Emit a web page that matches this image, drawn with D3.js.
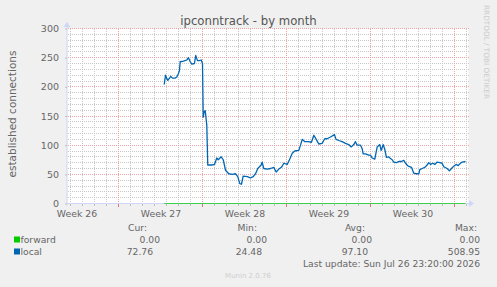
<!DOCTYPE html>
<html>
<head>
<meta charset="utf-8">
<script src="https://cdn.jsdelivr.net/npm/d3@7"></script>
<style>
html,body{margin:0;padding:0;background:#F0F0F0;}
svg{display:block;font-family:"DejaVu Sans",sans-serif;}
</style>
</head>
<body>
<svg id="chart" width="497" height="287"></svg>
<script>
// ---- data ----
const title = "ipconntrack - by month";
const yLabel = "established connections";
const yTicks = [0, 50, 100, 150, 200, 250, 300];
const weekLabels = ["Week 26", "Week 27", "Week 28", "Week 29", "Week 30"];
const weekStarts = [-2.75, 4.25, 11.25, 18.25, 25.25, 32.25]; // day offsets of week boundaries
const seriesNames = ["forward", "local"];
const seriesColors = ["#00CC00", "#0066B3"];
const curValues = ["0.00", "72.76"];
const minValues = ["0.00", "24.48"];
const avgValues = ["0.00", "97.10"];
const maxValues = ["0.00", "508.95"];
const lastUpdate = "Last update: Sun Jul 26 23:20:00 2026";

const forwardDays = [8.06, 12, 16, 20, 24, 28, 33.17];
const forwardValues = [0, 0, 0, 0, 0, 0, 0];

const localDays = [8.06, 8.17, 8.28, 8.36, 8.61, 8.75, 8.98, 9.11, 9.25, 9.33, 9.39, 9.67, 9.94, 10.08, 10.23, 10.36, 10.58, 10.69, 10.83, 10.98, 11.14, 11.25, 11.31, 11.39, 11.48, 11.61, 11.69, 12.03, 12.25, 12.44, 12.56, 12.81, 12.98, 13.17, 13.44, 13.73, 14.00, 14.19, 14.36, 14.50, 14.64, 14.98, 15.25, 15.48, 15.67, 15.86, 16.14, 16.22, 16.36, 16.64, 16.92, 17.19, 17.39, 17.61, 17.83, 18.03, 18.31, 18.50, 18.73, 18.94, 19.28, 19.42, 19.56, 19.78, 20.06, 20.33, 20.53, 20.73, 20.94, 21.22, 21.44, 21.64, 21.92, 22.25, 22.38, 22.61, 22.89, 23.17, 23.44, 23.64, 23.86, 24.00, 24.14, 24.42, 24.56, 24.64, 24.83, 25.11, 25.25, 25.39, 25.61, 25.81, 26.03, 26.14, 26.31, 26.44, 26.58, 26.78, 26.92, 27.06, 27.19, 27.42, 27.61, 27.83, 28.03, 28.17, 28.39, 28.67, 28.86, 29.06, 29.28, 29.36, 29.56, 29.78, 29.97, 30.11, 30.25, 30.44, 30.61, 30.81, 31.03, 31.22, 31.36, 31.64, 31.83, 32.00, 32.19, 32.39, 32.56, 32.75, 32.89, 33.17];
const localValues = [204, 220, 214, 211, 218, 215, 215, 217, 223, 228, 243, 244, 246, 250, 243, 239, 240, 254, 245, 245, 246, 240, 148, 157, 159, 134, 66, 66, 67, 78, 75, 80, 75, 57, 51, 50, 51, 46, 34, 33, 47, 46, 44, 46, 51, 60, 66, 71, 60, 59, 60, 62, 54, 59, 62, 69, 67, 75, 86, 90, 91, 100, 110, 106, 106, 105, 117, 110, 102, 103, 111, 111, 114, 118, 110, 108, 106, 103, 101, 97, 101, 106, 100, 100, 94, 85, 85, 83, 83, 78, 76, 97, 101, 91, 101, 93, 79, 80, 77, 75, 71, 70, 72, 72, 74, 69, 64, 62, 52, 51, 51, 58, 60, 62, 66, 70, 67, 69, 67, 71, 70, 69, 63, 60, 56, 60, 64, 67, 65, 69, 71, 72];

// ---- layout ----
const svg = d3.select("#chart");
const L = 67.5, R = 468.5, T = 28.5, B = 203.5;
const x = d3.scaleLinear().domain([0, 33.42]).range([L, R]);
const y = d3.scaleLinear().domain([0, 300]).range([B, T]);
const textCol = "#666666";
const axisCol = "#CFD6F8";
const minorCol = "#c8c8c8";
const majorCol = "#eda4a4";
const px = v => Math.round(v - 0.5) + 0.5;

// canvas
svg.append("rect").attr("x", L).attr("y", T).attr("width", R - L).attr("height", B - T).attr("fill", "#FFFFFF");

// grid
const g = svg.append("g").attr("shape-rendering", "crispEdges");
const minorY = d3.range(10, 300, 10).filter(v => v % 50 !== 0);
g.selectAll(".hmin").data(minorY).join("line")
  .attr("x1", L).attr("x2", R).attr("y1", d => px(y(d))).attr("y2", d => px(y(d)))
  .attr("stroke", minorCol).attr("stroke-dasharray", "1,1");
const dayLines = d3.range(0.25, 33.42, 1).filter(d => !weekStarts.some(w => Math.abs(w - d) < 1e-6));
g.selectAll(".vmin").data(dayLines).join("line")
  .attr("x1", d => px(x(d))).attr("x2", d => px(x(d))).attr("y1", T).attr("y2", B)
  .attr("stroke", minorCol).attr("stroke-dasharray", "1,1");
g.selectAll(".hmaj").data(yTicks.filter(v => v > 0)).join("line")
  .attr("x1", L).attr("x2", R).attr("y1", d => px(y(d))).attr("y2", d => px(y(d)))
  .attr("stroke", majorCol).attr("stroke-dasharray", "1,1");
const weekLines = weekStarts.filter(d => x(d) > L && x(d) < R);
g.selectAll(".vmaj").data(weekLines).join("line")
  .attr("x1", d => px(x(d))).attr("x2", d => px(x(d))).attr("y1", T).attr("y2", B)
  .attr("stroke", majorCol).attr("stroke-dasharray", "1,1");

// tick marks below x axis
g.selectAll(".tmin").data(dayLines).join("line")
  .attr("x1", d => px(x(d))).attr("x2", d => px(x(d))).attr("y1", B).attr("y2", B + 2)
  .attr("stroke", "#c0c0c0");
g.selectAll(".tmaj").data(weekLines).join("line")
  .attr("x1", d => px(x(d))).attr("x2", d => px(x(d))).attr("y1", B).attr("y2", B + 3)
  .attr("stroke", "#e07070");

// axes lines + arrows
svg.append("line").attr("x1", L - 0.5).attr("x2", R + 1).attr("y1", B).attr("y2", B).attr("stroke", axisCol);
svg.append("line").attr("x1", L - 0.5).attr("x2", L - 0.5).attr("y1", B + 2).attr("y2", T - 2).attr("stroke", axisCol);
svg.append("path").attr("d", `M${R + 0.5},${B - 3.5} L${R + 5.5},${B} L${R + 0.5},${B + 3.5} Z`).attr("fill", axisCol);
svg.append("path").attr("d", `M${L - 4},${T - 1.5} L${L - 0.5},${T - 6.5} L${L + 3},${T - 1.5} Z`).attr("fill", axisCol);

// y axis
const yAxis = svg.append("g").attr("transform", `translate(${L - 0.5},0)`)
  .call(d3.axisLeft(y).tickValues(yTicks).tickSize(2).tickPadding(6).tickFormat(d3.format("d")));
yAxis.select(".domain").remove();
yAxis.selectAll("line").attr("stroke", "#c0c0c0");
yAxis.selectAll("text").attr("fill", textCol).style("font-size", "9.5px").style("font-family", "DejaVu Sans");

// x axis labels
const weekMid = weekStarts.slice(0, weekLabels.length).map(w => w + 3.5);
const xAxis = svg.append("g").attr("transform", `translate(0,${B})`)
  .call(d3.axisBottom(x).tickValues(weekMid).tickSize(0).tickPadding(7).tickFormat((d, i) => weekLabels[i]));
xAxis.select(".domain").remove();
xAxis.selectAll("text").attr("fill", textCol).style("font-size", "9.3px").style("font-family", "DejaVu Sans");

// series lines
const line = d3.line().x(d => x(d[0])).y(d => y(d[1]));
svg.append("path").datum(forwardDays.map((d, i) => [d, forwardValues[i]]))
  .attr("d", line).attr("fill", "none").attr("stroke", seriesColors[0]).attr("stroke-width", 1.2).attr("stroke-opacity", 0.7);
svg.append("path").datum(localDays.map((d, i) => [d, localValues[i]]))
  .attr("d", line).attr("fill", "none").attr("stroke", seriesColors[1]).attr("stroke-width", 1.3)
  .attr("stroke-linejoin", "round");

// title
svg.append("text").attr("x", 248.5).attr("y", 25).attr("text-anchor", "middle")
  .attr("fill", "#555").style("font-size", "11.7px").text(title);

// y label
svg.append("text").attr("transform", "translate(15.5,114) rotate(-90)").attr("text-anchor", "middle")
  .attr("fill", textCol).style("font-size", "10.5px").text(yLabel);

// watermark
svg.append("text").attr("transform", "translate(484,5) rotate(90)").attr("text-anchor", "start")
  .attr("fill", "#cccccc").style("font-size", "7.3px").text("RRDTOOL / TOBI OETIKER");
svg.append("text").attr("x", 248).attr("y", 278).attr("text-anchor", "middle")
  .attr("fill", "#cfcfcf").style("font-size", "7px").text("Munin 2.0.76");

// legend
const lf = "9.2px";
const heads = ["Cur:", "Min:", "Avg:", "Max:"];
const headEnd = [147, 257, 365, 477];
heads.forEach((h, i) => {
  svg.append("text").attr("x", headEnd[i]).attr("y", 231).attr("text-anchor", "end")
    .attr("fill", textCol).style("font-size", lf).text(h);
});
const cols = [curValues, minValues, avgValues, maxValues];
const rowEnds = [[160, 267, 372, 480], [153, 262, 368, 480]];
const rowY = [243, 255];
seriesNames.forEach((n, r) => {
  svg.append("rect").attr("x", 14).attr("y", rowY[r] - 6.5).attr("width", 6).attr("height", 6).attr("fill", seriesColors[r]);
  svg.append("text").attr("x", 20.5).attr("y", rowY[r]).attr("fill", textCol).style("font-size", lf).text(n);
  cols.forEach((c, i) => {
    svg.append("text").attr("x", rowEnds[r][i]).attr("y", rowY[r]).attr("text-anchor", "end")
      .attr("fill", textCol).style("font-size", lf).text(c[r]);
  });
});
svg.append("text").attr("x", 480).attr("y", 267).attr("text-anchor", "end")
  .attr("fill", textCol).style("font-size", lf).text(lastUpdate);
</script>
</body>
</html>
